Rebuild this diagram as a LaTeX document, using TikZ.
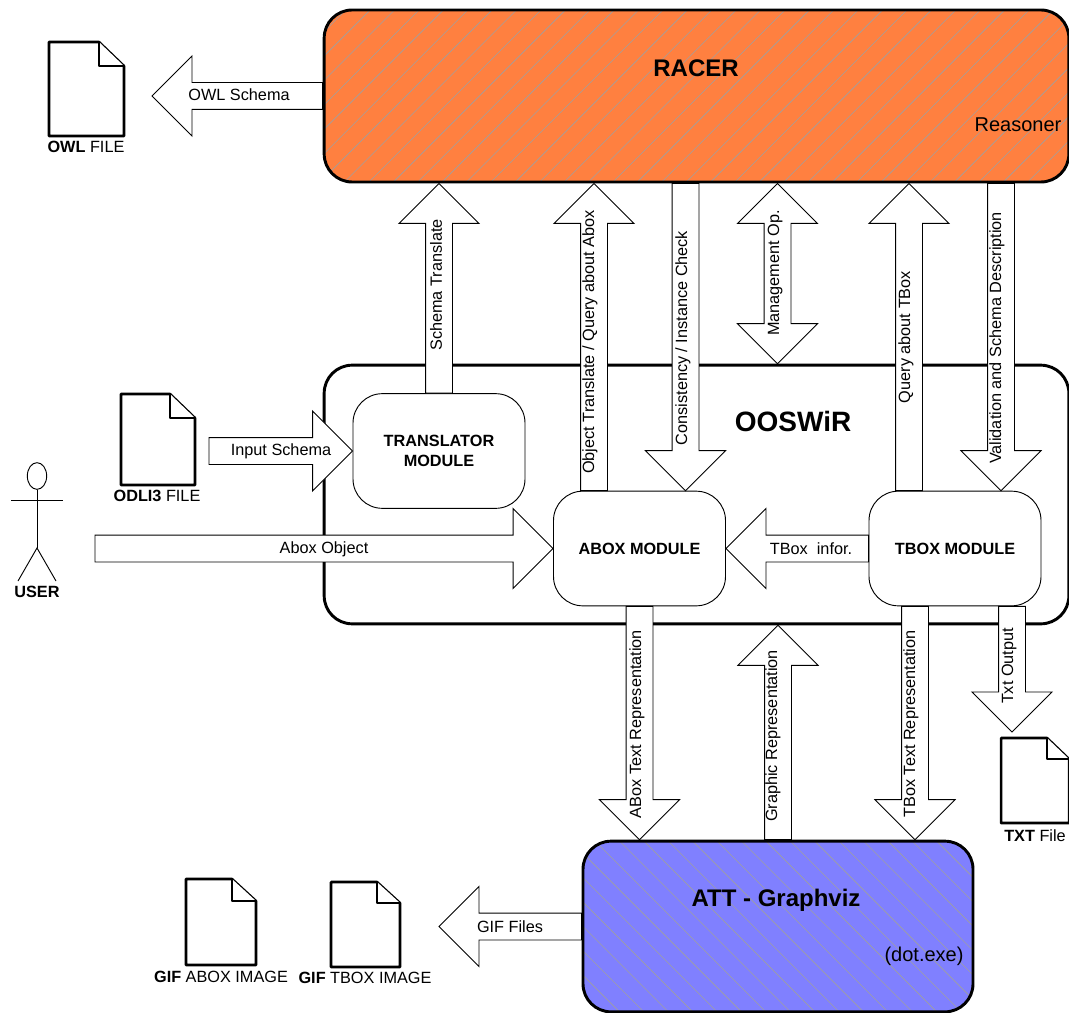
\documentclass[tikz,border=0pt]{standalone}
\usepackage{fontspec}
\setmainfont{Liberation Sans}
\usetikzlibrary{shapes,calc,positioning}

\definecolor{racerorange}{HTML}{FF8040}
\definecolor{dotblue}{HTML}{8080FF}
\definecolor{hatchgray}{HTML}{A0A0A0}

% arrow body from #1 to the tip at #2
\newcommand{\blockarrow}[2]{
    \coordinate (hb) at ($(#2)!30pt!(#1)$);
    \draw[blockline] ($(#1)!10.1pt!90:(#2)$) -- ($(hb)!10.1pt!-90:(#1)$)
        -- ($(hb)!30pt!-90:(#1)$) -- (#2) -- ($(hb)!30pt!90:(#1)$)
        -- ($(hb)!10.1pt!90:(#1)$) -- ($(#1)!10.1pt!-90:(#2)$) -- cycle;
}
% file icon: left, top, right, bottom, fold x, fold y
\newcommand{\fileicon}[6]{
    \draw[fileline] (#1,#2) -- (#5,#2) -- (#3,#6) -- (#3,#4) -- (#1,#4) -- cycle;
    \draw[fileline] (#5,#2) -- (#5,#6) -- (#3,#6);
}

\begin{document}
\begin{tikzpicture}[
    x=0.75pt,
    y=-0.75pt,
    bigbox/.style={
        rectangle,
        draw=black,
        line width=2.2pt,
        rounded corners=21pt
    },
    module/.style={
        rectangle,
        draw=black,
        line width=0.7pt,
        fill=white,
        rounded corners=22pt,
        minimum width=129pt,
        minimum height=86pt,
        align=center,
        font=\fontsize{12.2}{15}\selectfont\bfseries
    },
    hatchup/.style={
        path picture={
            \foreach \k in {0,...,37}
                \draw[hatchline] ($(path picture bounding box.north west)+(21.6+24.4*\k,0)$) -- ++(-172,172);
        }
    },
    hatchdown/.style={
        path picture={
            \foreach \k in {0,...,22}
                \draw[hatchline] ($(path picture bounding box.north west)+(-158.6+24.4*\k,0)$) -- ++(172,172);
        }
    },
    hatchline/.style={
        draw=hatchgray,
        line width=0.45pt
    },
    blockline/.style={
        draw=black,
        fill=white,
        line width=0.7pt,
        line join=miter
    },
    fileline/.style={
        draw=black,
        fill=white,
        line width=1.9pt,
        line join=round
    },
    arrowlabel/.style={
        font=\fontsize{12.2}{14}\selectfont
    },
    filelabel/.style={
        font=\fontsize{12.2}{14}\selectfont
    },
    titlelabel/.style={
        font=\fontsize{18}{20}\selectfont\bfseries
    },
    notelabel/.style={
        font=\fontsize{15}{18}\selectfont
    }
]
\useasboundingbox (0,0) rectangle (1069,1012);

% Outer boxes
\node[bigbox, minimum width=558.5pt, minimum height=194pt] (ooswir) at (696.5,494.5) {};
\node[bigbox, fill=racerorange, hatchup, minimum width=558.5pt, minimum height=129pt] (racer) at (696.5,96) {};
\node[bigbox, fill=dotblue, hatchdown, minimum width=292.5pt, minimum height=128pt] (graphviz) at (778,926.5) {};

% Modules
\node[module] (translator) at (439,451) {TRANSLATOR\\MODULE};
\node[module] (abox) at (639.5,548.5) {ABOX MODULE};
\node[module] (tbox) at (955,548.5) {TBOX MODULE};

% Free ends and offsets of the arrows
\coordinate (owltip) at (152,96);
\coordinate (inputstart) at (209,451);
\coordinate (aboxstart) at (95,548.5);
\coordinate (txttip) at (1012,732);
\coordinate (giftip) at (439,926.5);
\coordinate (objectstart) at ($(abox.north)+(-45.5,0)$);
\coordinate (checkend) at ($(abox.north)+(46,0)$);
\coordinate (querystart) at ($(tbox.north)+(-46,0)$);
\coordinate (validend) at ($(tbox.north)+(46,0)$);
\coordinate (manageup) at ($(racer.south)+(81,0)$);
\coordinate (abtextstart) at (abox.south);
\coordinate (tbtextstart) at ($(tbox.south)+(-40,0)$);
\coordinate (txtstart) at ($(tbox.south)+(57,0)$);

% Arrows around RACER
\blockarrow{racer.west}{owltip}
\blockarrow{translator.north}{racer.south -| translator.north}
\blockarrow{objectstart}{racer.south -| objectstart}
\blockarrow{racer.south -| checkend}{checkend}
\blockarrow{querystart}{racer.south -| querystart}
\blockarrow{racer.south -| validend}{validend}

% Double arrow for the management operations
\coordinate (managedown) at (ooswir.north -| manageup);
\coordinate (hu) at ($(manageup)!30pt!(managedown)$);
\coordinate (hd) at ($(managedown)!30pt!(manageup)$);
\draw[blockline] (manageup) -- ($(hu)!30pt!90:(manageup)$) -- ($(hu)!10.1pt!90:(manageup)$)
    -- ($(hd)!10.1pt!-90:(managedown)$) -- ($(hd)!30pt!-90:(managedown)$) -- (managedown)
    -- ($(hd)!30pt!90:(managedown)$) -- ($(hd)!10.1pt!90:(managedown)$)
    -- ($(hu)!10.1pt!-90:(manageup)$) -- ($(hu)!30pt!-90:(manageup)$) -- cycle;

% Arrows inside OOSWiR
\blockarrow{inputstart}{translator.west}
\blockarrow{aboxstart}{abox.west}
\blockarrow{tbox.west}{abox.east}

% Arrows around Graphviz
\blockarrow{abtextstart}{graphviz.north -| abtextstart}
\blockarrow{graphviz.north}{ooswir.south -| graphviz.north}
\blockarrow{tbtextstart}{graphviz.north -| tbtextstart}
\blockarrow{txtstart}{txttip}
\blockarrow{graphviz.west}{giftip}

% Box titles
\node[titlelabel] (racertitle) at (696,68) {RACER};
\node[notelabel] (racernote) at (1018,125) {Reasoner};
\node[font=\fontsize{21}{24}\selectfont\bfseries] (ooswirtitle) at (793,421) {OOSWiR};
\node[titlelabel] (graphviztitle) at (776,900) {ATT - Graphviz};
\node[notelabel] (graphviznote) at (924,956) {(dot.exe)};

% Arrow labels
\node[arrowlabel] (owllabel) at (239,95) {OWL Schema};
\node[arrowlabel] (inputlabel) at (281,451) {Input Schema};
\node[arrowlabel] (aboxlabel) at (324,549) {Abox Object};
\node[arrowlabel] (tboxlabel) at (811,549) {TBox\ \ infor.};
\node[arrowlabel] (giflabel) at (510,927) {GIF Files};
\node[arrowlabel, rotate=90] (schemalabel) at (436,285) {Schema Translate};
\node[arrowlabel, rotate=90] (objectlabel) at (590,342) {Object Translate / Query about Abox};
\node[arrowlabel, rotate=90] (checklabel) at (683,338) {Consistency / Instance Check};
\node[arrowlabel, rotate=90] (managelabel) at (775,273) {Management Op.};
\node[arrowlabel, rotate=90] (querylabel) at (906,337) {Query about TBox};
\node[arrowlabel, rotate=90] (validlabel) at (997,338) {Validation and Schema Description};
\node[arrowlabel, rotate=90] (abtextlabel) at (637,724) {ABox Text Representation};
\node[arrowlabel, rotate=90] (graphiclabel) at (773,736) {Graphic Representation};
\node[arrowlabel, rotate=90] (tbtextlabel) at (911,724) {TBox Text Representation};
\node[arrowlabel, rotate=90] (txtlabel) at (1009,666) {Txt Output};

% Files
\fileicon{49}{42}{124}{136}{99}{66}
\node[filelabel] (owlfile) at (86,147) {\textbf{OWL} FILE};
\fileicon{121}{394}{195}{485}{170}{418}
\node[filelabel] (odlfile) at (157,496) {\textbf{ODLI3} FILE};
\fileicon{1001}{738}{1069}{823}{1047}{759}
\node[filelabel] (txtfile) at (1035,836) {\textbf{TXT} File};
\fileicon{186}{879}{256}{965}{232}{901}
\node[filelabel] (gifabox) at (221,977) {\textbf{GIF} ABOX IMAGE};
\fileicon{331}{882}{400}{967}{377}{903}
\node[filelabel] (giftbox) at (365,978) {\textbf{GIF} TBOX IMAGE};

% User
\node[draw=black, ellipse, line width=0.7pt, minimum width=14.5pt, minimum height=20pt, inner sep=0pt] (userhead) at (37,476) {};
\coordinate (userhip) at (37,548);
\coordinate (userarmleft) at (11,500);
\coordinate (userarmright) at (63,500);
\coordinate (userfootleft) at (18,581);
\coordinate (userfootright) at (56,581);
\draw[line width=0.7pt] (userhead.south) -- (userhip);
\draw[line width=0.7pt] (userarmleft) -- (userarmright);
\draw[line width=0.7pt] (userfootleft) -- (userhip) -- (userfootright);
\node[font=\fontsize{12.2}{14}\selectfont\bfseries] (userlabel) at (37,592) {USER};

\end{tikzpicture}
\end{document}
